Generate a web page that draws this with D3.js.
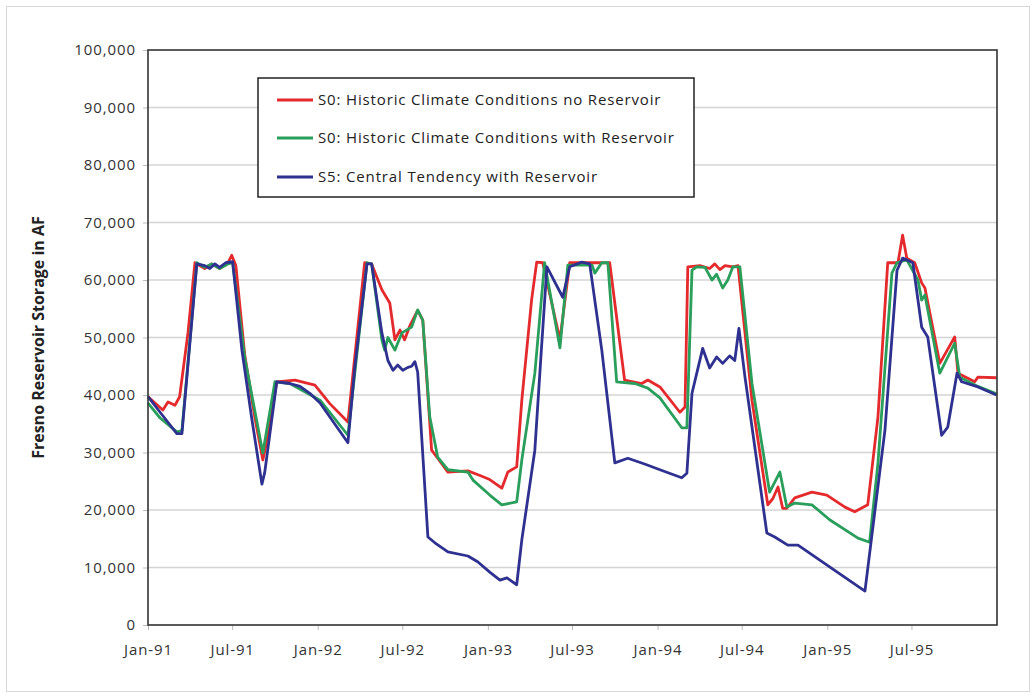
<!DOCTYPE html>
<html>
<head>
<meta charset="utf-8">
<script src="https://cdn.jsdelivr.net/npm/d3@7/dist/d3.min.js"></script>
<style>
  html, body { margin: 0; padding: 0; background: #fff; }
  svg { display: block; }
  .tick text { font-family: "Open Sans", "Noto Sans", sans-serif; fill: #333; }
</style>
</head>
<body>
<svg id="chart" width="1036" height="698"></svg>
<script>
// ---------------- DATA ----------------
const seriesNames = [
  "S0: Historic Climate Conditions no Reservoir",
  "S0: Historic Climate Conditions with Reservoir",
  "S5: Central Tendency with Reservoir"
];
const yTickValues = [0, 10000, 20000, 30000, 40000, 50000, 60000, 70000, 80000, 90000, 100000];
const xTickDates = ["1991-01-01","1991-07-01","1992-01-01","1992-07-01","1993-01-01","1993-07-01",
                    "1994-01-01","1994-07-01","1995-01-01","1995-07-01"];

const noReservoir = [
  ["1991-01-01",39700],["1991-02-02",37400],["1991-02-13",38800],["1991-02-28",38200],["1991-03-10",39700],
  ["1991-03-28",50800],["1991-04-12",63000],["1991-05-03",62000],["1991-05-18",62800],["1991-06-04",62000],
  ["1991-06-22",63000],["1991-06-30",64300],["1991-07-09",62500],["1991-07-28",47000],["1991-08-19",36000],
  ["1991-09-05",28700],["1991-09-11",31000],["1991-10-05",42300],["1991-11-13",42600],["1991-12-26",41700],
  ["1992-01-27",38500],["1992-03-06",35300],["1992-04-11",63000],["1992-04-26",62800],["1992-05-18",58300],
  ["1992-06-04",56000],["1992-06-15",49600],["1992-06-26",51300],["1992-07-06",49600],["1992-07-17",52000],
  ["1992-08-03",54700],["1992-08-14",53000],["1992-09-02",30400],["1992-09-15",29000],["1992-10-07",26600],
  ["1992-11-19",26800],["1992-12-15",26000],["1993-01-05",25300],["1993-01-31",23800],["1993-02-13",26600],
  ["1993-03-04",27500],["1993-03-15",39100],["1993-04-05",56500],["1993-04-16",63100],["1993-04-29",63000],
  ["1993-06-05",49600],["1993-06-26",63000],["1993-08-08",63000],["1993-09-20",63000],["1993-10-22",42600],
  ["1993-11-28",42000],["1993-12-11",42600],["1994-01-06",41400],["1994-02-18",37000],["1994-03-01",37900],
  ["1994-03-07",62300],["1994-04-02",62500],["1994-04-23",62000],["1994-05-04",62800],["1994-05-15",61800],
  ["1994-05-26",62500],["1994-06-12",62300],["1994-06-23",62500],["1994-07-23",39100],["1994-08-26",20900],
  ["1994-09-06",22000],["1994-09-17",24000],["1994-09-27",20300],["1994-10-06",20300],["1994-10-23",22100],
  ["1994-11-29",23100],["1994-12-31",22600],["1995-02-08",20500],["1995-03-01",19700],["1995-03-29",20900],
  ["1995-04-20",36200],["1995-05-11",63000],["1995-06-02",63000],["1995-06-12",67800],["1995-06-21",63800],
  ["1995-07-08",63000],["1995-07-23",59500],["1995-07-30",58600],["1995-08-31",45500],["1995-10-02",50100],
  ["1995-10-09",43800],["1995-11-14",42300],["1995-11-21",43100],["1995-12-31",43000]
];

const withReservoir = [
  ["1991-01-01",38600],["1991-01-27",36000],["1991-03-04",33600],["1991-03-15",33800],["1991-04-16",63000],
  ["1991-05-03",62200],["1991-05-18",62800],["1991-06-04",62000],["1991-06-22",62800],["1991-07-02",63000],
  ["1991-07-28",46500],["1991-09-05",29900],["1991-10-01",42300],["1991-11-02",42000],["1992-01-06",39100],
  ["1992-03-06",33000],["1992-04-16",63000],["1992-04-26",62800],["1992-05-18",49600],["1992-05-24",47800],
  ["1992-05-31",50000],["1992-06-15",47800],["1992-06-30",50800],["1992-07-21",51800],["1992-08-03",54800],
  ["1992-08-14",53000],["1992-08-29",36200],["1992-09-15",29200],["1992-10-07",27000],["1992-11-19",26600],
  ["1992-11-30",25200],["1993-01-05",22600],["1993-01-31",20900],["1993-03-04",21400],["1993-03-15",28700],
  ["1993-04-12",43800],["1993-05-03",63000],["1993-06-05",48200],["1993-06-22",62600],["1993-08-13",62600],
  ["1993-08-19",61200],["1993-09-03",63000],["1993-09-16",63000],["1993-10-05",42300],["1993-11-13",42000],
  ["1993-12-11",41200],["1994-01-06",39500],["1994-02-22",34300],["1994-03-05",34300],["1994-03-16",61700],
  ["1994-03-26",62300],["1994-04-13",62200],["1994-04-28",60000],["1994-05-08",61000],["1994-05-21",58600],
  ["1994-06-01",60000],["1994-06-12",62300],["1994-06-27",62300],["1994-07-23",42000],["1994-08-30",23100],
  ["1994-09-21",26600],["1994-10-06",20500],["1994-10-23",21200],["1994-11-29",20900],["1995-01-06",18300],
  ["1995-03-08",15100],["1995-04-02",14400],["1995-04-20",28200],["1995-05-20",61200],["1995-05-31",63000],
  ["1995-06-21",63500],["1995-07-15",60000],["1995-07-23",56500],["1995-07-30",57400],["1995-08-31",43800],
  ["1995-10-02",49000],["1995-10-13",43100],["1995-11-21",41500],["1995-12-31",40200]
];

const centralTendency = [
  ["1991-01-01",39700],["1991-01-27",37000],["1991-03-04",33300],["1991-03-15",33300],["1991-04-16",62800],
  ["1991-05-03",62500],["1991-05-14",62000],["1991-05-25",62800],["1991-06-04",62200],["1991-06-17",63000],
  ["1991-07-02",63200],["1991-07-22",47800],["1991-08-12",36000],["1991-09-03",24500],["1991-09-09",26500],
  ["1991-10-05",42300],["1991-11-02",42000],["1991-11-24",41500],["1991-12-15",40300],["1992-01-06",38600],
  ["1992-03-06",31700],["1992-03-21",45000],["1992-04-16",62800],["1992-04-26",62800],["1992-05-18",50800],
  ["1992-05-31",46000],["1992-06-11",44300],["1992-06-21",45200],["1992-07-02",44300],["1992-07-13",44800],
  ["1992-07-21",45000],["1992-07-28",45800],["1992-08-03",44000],["1992-08-25",15300],["1992-09-09",14300],
  ["1992-10-07",12700],["1992-11-19",12000],["1992-12-10",11000],["1993-01-05",9200],["1993-01-27",7800],
  ["1993-02-11",8200],["1993-03-04",7000],["1993-03-15",14800],["1993-04-12",30400],["1993-04-26",47800],
  ["1993-05-08",62300],["1993-06-11",57000],["1993-06-26",62300],["1993-07-22",63100],["1993-08-08",62800],
  ["1993-09-03",47800],["1993-10-01",28200],["1993-10-29",29000],["1993-12-04",28000],["1994-01-06",27000],
  ["1994-02-22",25600],["1994-03-05",26400],["1994-03-16",40300],["1994-04-08",48100],["1994-04-23",44700],
  ["1994-05-08",46600],["1994-05-21",45500],["1994-06-05",46800],["1994-06-16",46000],["1994-06-25",51600],
  ["1994-07-08",43100],["1994-08-24",16000],["1994-09-10",15300],["1994-10-08",13900],["1994-10-30",13900],
  ["1995-01-06",10100],["1995-03-23",5900],["1995-05-05",33900],["1995-05-31",61700],["1995-06-12",63800],
  ["1995-07-04",63000],["1995-07-23",51800],["1995-08-05",50100],["1995-09-04",33000],["1995-09-17",34400],
  ["1995-10-07",43800],["1995-10-17",42300],["1995-11-21",41400],["1995-12-31",40000]
];

const seriesColors = ["#e42a2c", "#2a9f5c", "#2e3190"];

// ---------------- CHART ----------------
const parse = d3.timeParse("%Y-%m-%d");
const svg = d3.select("#chart");

// outer frame
svg.append("rect").attr("x", 6.5).attr("y", 6.5).attr("width", 1023).attr("height", 685)
  .attr("fill", "#fff").attr("stroke", "#d8d8d8").attr("stroke-width", 1);

const plot = { left: 148, top: 50, right: 997, bottom: 625 };

const x = d3.scaleTime()
  .domain([parse("1991-01-01"), parse("1996-01-01")])
  .range([plot.left, plot.right]);
const y = d3.scaleLinear().domain([0, 100000]).range([plot.bottom, plot.top]);

// gridlines
svg.append("g").selectAll("line")
  .data(yTickValues.filter(v => v > 0 && v < 100000))
  .join("line")
  .attr("x1", plot.left).attr("x2", plot.right)
  .attr("y1", d => y(d)).attr("y2", d => y(d))
  .attr("stroke", "#d4d4d4").attr("stroke-width", 1.5);

// y axis
const yAxis = svg.append("g").attr("transform", `translate(${plot.left},0)`)
  .call(d3.axisLeft(y).tickValues(yTickValues).tickFormat(d3.format(",")).tickSize(5).tickPadding(7));
yAxis.select(".domain").remove();
yAxis.selectAll(".tick line").attr("stroke", "#bbb");
yAxis.selectAll(".tick text").attr("font-size", 15).attr("letter-spacing", "0.9px").attr("fill", "#3a3a3a");

// x axis
const xAxis = svg.append("g").attr("transform", `translate(0,${plot.bottom})`)
  .call(d3.axisBottom(x).tickValues(xTickDates.map(parse)).tickFormat(d3.timeFormat("%b-%y")).tickSize(5).tickPadding(14));
xAxis.select(".domain").remove();
xAxis.selectAll(".tick line").attr("stroke", "#bbb");
xAxis.selectAll(".tick text").attr("font-size", 15).attr("letter-spacing", "0.9px").attr("fill", "#3a3a3a");

// lines
const line = d3.line().x(d => x(parse(d[0]))).y(d => y(d[1]));
const allSeries = [noReservoir, withReservoir, centralTendency];
svg.append("g").selectAll("path")
  .data(allSeries)
  .join("path")
  .attr("d", d => line(d))
  .attr("fill", "none")
  .attr("stroke", (d, i) => seriesColors[i])
  .attr("stroke-width", 2.8)
  .attr("stroke-linejoin", "round");

// plot frame
svg.append("rect")
  .attr("x", plot.left).attr("y", plot.top)
  .attr("width", plot.right - plot.left).attr("height", plot.bottom - plot.top)
  .attr("fill", "none").attr("stroke", "#333").attr("stroke-width", 1.6);

// y axis title
svg.append("text")
  .attr("transform", `translate(44,${(plot.top + plot.bottom) / 2}) rotate(-90)`)
  .attr("text-anchor", "middle")
  .attr("font-family", "'Open Sans', 'Noto Sans', sans-serif")
  .attr("font-weight", "bold").attr("font-size", 16).attr("fill", "#222")
  .text("Fresno Reservoir Storage in AF");

// legend
const legend = svg.append("g");
legend.append("rect").attr("x", 258).attr("y", 78).attr("width", 436).attr("height", 119)
  .attr("fill", "#fff").attr("stroke", "#222").attr("stroke-width", 1.5);
const rowY = [100, 138, 177];
const items = legend.selectAll("g.item").data(seriesNames).join("g").attr("class", "item")
  .attr("transform", (d, i) => `translate(0,${rowY[i]})`);
items.append("line").attr("x1", 277).attr("x2", 313).attr("y1", 0).attr("y2", 0)
  .attr("stroke", (d, i) => seriesColors[i]).attr("stroke-width", 2.8);
items.append("text").attr("x", 318).attr("y", 0).attr("dy", "0.35em")
  .attr("font-family", "'Open Sans', 'Noto Sans', sans-serif").attr("font-size", 15)
  .attr("letter-spacing", "0.85px").attr("fill", "#222")
  .text(d => d);
</script>
</body>
</html>
